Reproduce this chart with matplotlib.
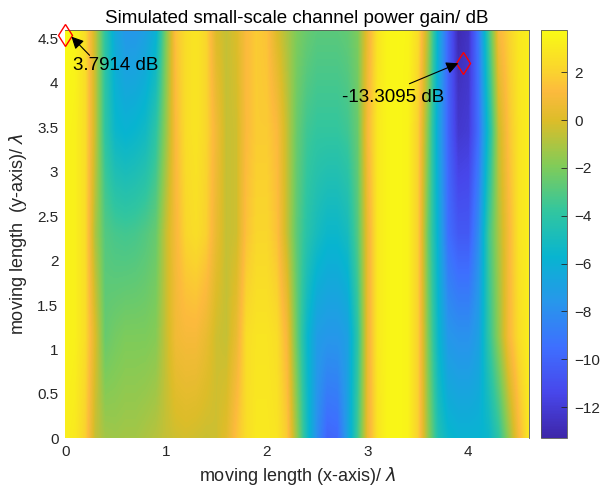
import numpy as np
import matplotlib
matplotlib.use("Agg")
import matplotlib.pyplot as plt
from matplotlib.colors import LinearSegmentedColormap

plt.rcParams['font.family'] = ['Liberation Sans', 'DejaVu Sans']
plt.rcParams['mathtext.fontset'] = 'dejavusans'

# ---------------- data ----------------
x_grid = [round(0.1 * i, 1) for i in range(47)]          # moving length (x) / lambda
y_grid = [0.0, 1.15, 2.3, 3.45, 4.6]                      # moving length (y) / lambda

gain_y0 = [3.2, 3.0, 2.0, -0.5, -1.2, -1.3, -1.2, -1.2, -1.0, -0.8,
           -0.5, -0.3, -0.2, -0.3, -0.4, -0.3, 0.2, 1.5, 2.5, 3.0,
           3.0, 2.8, 1.8, -1.5, -5.0, -8.0, -10.0, -9.8, -7.0, -3.5,
           0.5, 2.8, 3.5, 3.6, 3.4, 2.0, -1.5, -4.5, -5.5, -5.8,
           -5.8, -5.8, -5.5, -4.0, -1.5, 1.0, 3.0]
gain_y1 = [3.5, 3.3, 2.5, 0.0, -2.5, -2.2, -2.0, -2.0, -2.0, -1.8,
           -0.5, 0.8, 1.0, 1.0, 0.5, -0.3, -0.5, 0.5, 2.5, 2.8,
           2.8, 2.5, 1.0, -2.5, -5.5, -7.2, -7.5, -7.5, -7.0, -4.0,
           0.5, 3.0, 3.5, 3.6, 3.4, 2.0, -2.0, -5.5, -7.5, -7.8,
           -7.8, -7.0, -4.0, -1.5, 1.0, 2.5, 3.2]
gain_y2 = [3.5, 3.3, 2.5, -1.0, -3.0, -3.3, -3.4, -3.3, -3.0, -2.5,
           -0.5, 1.0, 2.2, 2.5, 2.0, 0.5, -0.5, -0.3, 1.5, 2.2,
           2.2, 1.5, -0.5, -2.8, -4.2, -5.0, -5.5, -5.5, -5.0, -3.0,
           0.5, 3.0, 3.5, 3.6, 3.4, 2.0, -2.5, -6.0, -9.5, -10.5,
           -10.5, -8.0, -3.5, -1.0, 1.0, 2.8, 3.2]
gain_y3 = [3.5, 3.3, 2.5, -0.5, -4.0, -5.5, -5.8, -5.6, -5.2, -4.0,
           -1.5, 1.2, 2.5, 2.8, 2.2, 0.8, -0.5, -0.3, 1.2, 1.8,
           1.8, 1.2, -0.5, -2.5, -3.5, -3.8, -3.8, -3.8, -3.5, -2.5,
           1.0, 3.0, 3.5, 3.6, 3.4, 2.0, -2.0, -6.5, -10.0, -12.2,
           -12.0, -9.5, -5.0, -0.5, 1.5, 2.8, 3.2]
gain_y4 = [3.79, 3.5, 2.5, -0.5, -4.0, -6.5, -7.5, -7.5, -7.0, -6.0,
           -2.0, 1.5, 2.5, 2.8, 2.2, 0.0, -0.5, 0.0, 1.2, 1.8,
           1.5, 0.0, -1.0, -2.0, -2.5, -2.8, -2.8, -2.8, -2.6, -2.0,
           0.5, 2.8, 3.5, 3.6, 3.5, 2.5, -1.0, -6.0, -10.0, -13.0,
           -12.5, -9.0, -3.5, 1.0, 2.0, 3.0, 3.2]

gain_max = 3.7914
gain_min = -13.3095
max_pos = (0.0, 4.54)
min_pos = (3.945, 4.22)

cbar_ticks = [2, 0, -2, -4, -6, -8, -10, -12]
x_ticks = [0, 1, 2, 3, 4]
y_ticks = [0, 0.5, 1, 1.5, 2, 2.5, 3, 3.5, 4, 4.5]

# parula-like colormap (anchor colours)
parula_pos = [0.0, 0.111, 0.222, 0.333, 0.444, 0.556, 0.667, 0.778, 0.85, 0.9, 1.0]
parula_rgb = [(0.2422, 0.1504, 0.6603), (0.2803, 0.2782, 0.9221),
              (0.2440, 0.4358, 0.9988), (0.1540, 0.5902, 0.9218),
              (0.0297, 0.7082, 0.8163), (0.1938, 0.7758, 0.6251),
              (0.5044, 0.7993, 0.3480), (0.8634, 0.7406, 0.1596),
              (0.9900, 0.7300, 0.2400), (0.9800, 0.8300, 0.1800),
              (0.9769, 0.9839, 0.0805)]
parula = LinearSegmentedColormap.from_list('parula', list(zip(parula_pos, parula_rgb)), N=256)

# ---------------- figure ----------------
Z = np.array([gain_y0, gain_y1, gain_y2, gain_y3, gain_y4])
xg = np.array(x_grid)
yg = np.array(y_grid)

fig = plt.figure(figsize=(6.02, 4.92), dpi=100)
ax = fig.add_axes([0.1086, 0.1091, 0.7698, 0.8309])
cax = fig.add_axes([0.8987, 0.1091, 0.0432, 0.8309])

dx = xg[1] - xg[0]
dy = yg[1] - yg[0]
im = ax.imshow(Z, origin='lower', aspect='auto', cmap=parula,
               vmin=gain_min, vmax=gain_max,
               interpolation='bilinear', interpolation_stage='data',
               extent=[xg[0] - dx / 2, xg[-1] + dx / 2, yg[0] - dy / 2, yg[-1] + dy / 2])
ax.set_xlim(xg[0], xg[-1])
ax.set_ylim(yg[0], yg[-1])

tc = '#262626'
ax.set_xticks(x_ticks)
ax.set_yticks(y_ticks)
ax.set_yticklabels([f'{v:g}' for v in y_ticks])
ax.tick_params(length=0, labelsize=11, colors=tc, pad=5)
for s in ['left', 'bottom']:
    ax.spines[s].set_visible(False)
for s in ['top', 'right']:
    ax.spines[s].set_color('#555555')
    ax.spines[s].set_linewidth(0.6)

ax.set_title('Simulated small-scale channel power gain/ dB', fontsize=13.5, pad=5)
ax.set_xlabel(r'moving length (x-axis)/ $\lambda$', fontsize=13, color=tc, labelpad=4)
ax.set_ylabel(r'moving length  (y-axis)/ $\lambda$', fontsize=13, color=tc, labelpad=6)

# markers
ax.plot([max_pos[0]], [max_pos[1]], marker='d', ms=11.5, mfc='none', mec='red',
        mew=1.0, clip_on=False, zorder=5)
ax.plot([min_pos[0]], [min_pos[1]], marker='d', ms=11.5, mfc='none', mec='red',
        mew=1.0, clip_on=False, zorder=5)

# annotations
ax.annotate('', xy=(0.06, 4.52), xytext=(0.24, 4.31),
            arrowprops=dict(arrowstyle='-|>', color='k', lw=0.8,
                            mutation_scale=18, shrinkA=0, shrinkB=0), zorder=6)
ax.text(0.08, 4.2, f'{gain_max:.4f} dB', fontsize=13.5, va='center', ha='left')
ax.annotate('', xy=(3.90, 4.22), xytext=(3.415, 3.99),
            arrowprops=dict(arrowstyle='-|>', color='k', lw=0.8,
                            mutation_scale=18, shrinkA=0, shrinkB=0), zorder=6)
ax.text(2.75, 3.84, f'{gain_min:.4f} dB', fontsize=13.5, va='center', ha='left')

# colorbar
cb = fig.colorbar(im, cax=cax)
cb.set_ticks(cbar_ticks)
cb.ax.tick_params(direction='in', length=4, width=0.6, labelsize=11, colors=tc,
                  pad=5)
cb.outline.set_edgecolor('#555555')
cb.outline.set_linewidth(0.6)

fig.savefig('out.png', dpi=100)
